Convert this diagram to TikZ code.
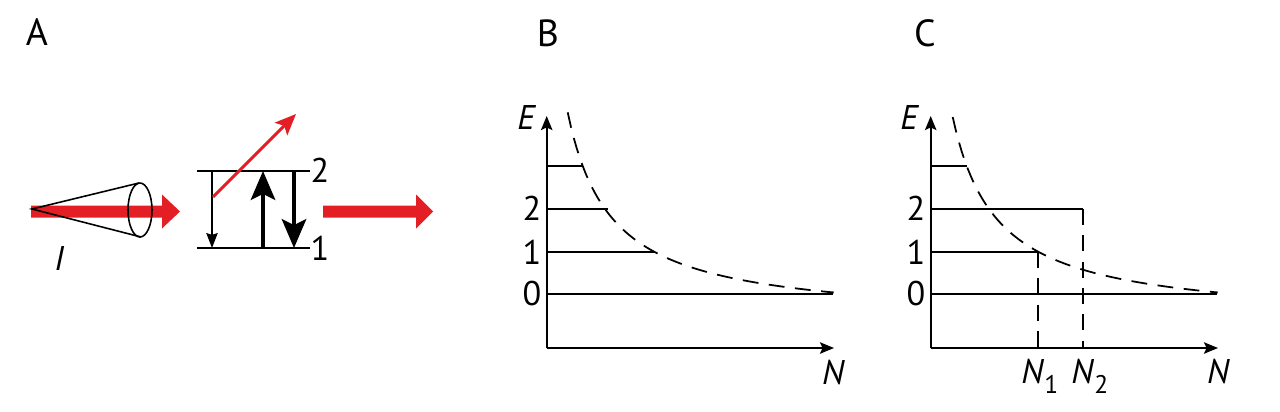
\documentclass[tikz,border=0pt]{standalone}
\usepackage{fontspec}
\setmainfont{PT Sans}
\usetikzlibrary{arrows.meta}
\definecolor{lred}{RGB}{228,30,37}
\begin{document}
\begin{tikzpicture}[x=0.02cm,y=-0.02cm,
  lbl/.style={font=\fontsize{19.5}{22}\selectfont, inner sep=0},
  ilbl/.style={font=\fontsize{19.5}{22}\selectfont\itshape, inner sep=0},
  panel/.style={font=\fontsize{21.5}{24}\selectfont, inner sep=0},
  lvl/.style={line width=1.1pt},
  axis/.style={line width=1.1pt, -{Stealth[length=8pt,width=6.5pt,inset=1.5pt]}},
  dsh/.style={line width=1pt, dash pattern=on 9pt off 6pt},
  thinarr/.style={line width=0.8pt, -{Stealth[length=8.5pt,width=6.5pt,inset=1pt]}},
  thickarr/.style={line width=1.8pt, -{Stealth[length=16.5pt,width=14pt,inset=3.5pt]}},
  redarr/.style={lred, line width=1.8pt, -{Stealth[length=12pt,width=10pt,inset=2.5pt]}},
  beam/.style={fill=lred, draw=none},
  cone/.style={line width=0.9pt}]
\useasboundingbox (0,0) rectangle (1280,412);

% ---------- panel labels
\node[panel] (pa) at (37,32) {A};
\node[panel] (pb) at (548,33) {B};
\node[panel] (pc) at (925,33) {C};

% ---------- panel A
\fill[beam] (31,205.5) -- (162,205.5) -- (162,194.5) -- (180,211.5) -- (162,228.5) -- (162,217.5) -- (31,217.5) -- cycle;
\fill[beam] (323,205.5) -- (416,205.5) -- (416,194.5) -- (433,211.5) -- (416,228.5) -- (416,217.5) -- (323,217.5) -- cycle;
\coordinate (apex) at (32,209);
\coordinate (ctop) at (139,183);
\coordinate (cbot) at (141,237);
\draw[cone] (ctop) -- (apex) -- (cbot);
\draw[cone] (140,210) ellipse [x radius=0.24cm, y radius=0.54cm];
\node[ilbl] (I) at (59,259) {I};

\coordinate (l2a) at (197,171); \coordinate (l2b) at (310,171);
\coordinate (l1a) at (197,248); \coordinate (l1b) at (310,248);
\draw[lvl] (l2a) -- (l2b);
\draw[lvl] (l1a) -- (l1b);
\node[lbl] (a2) at (320,170.5) {2};
\node[lbl] (a1) at (320,248) {1};
\coordinate (s1) at (212,171); \coordinate (e1) at (212,248);
\draw[thinarr] (s1) -- (e1);
\coordinate (s2) at (263,248); \coordinate (e2) at (263,171);
\draw[thickarr] (s2) -- (e2);
\coordinate (s3) at (294,171); \coordinate (e3) at (294,248);
\draw[thickarr] (s3) -- (e3);
\coordinate (rs) at (213,197); \coordinate (re) at (296,114);
\draw[redarr] (rs) -- (re);

% ---------- panel B
\coordinate (ob) at (546.7,348);
\coordinate (eb) at (546.7,116);
\coordinate (nb) at (834,348);
\draw[axis] (ob) -- (eb);
\draw[axis] (ob) -- (nb);
\draw[lvl] (546.7,294) -- (833,294);
\draw[lvl] (546.7,252) -- (655,252);
\draw[lvl] (546.7,209) -- (608,209);
\draw[lvl] (546.7,166) -- (583,166);
\node[lbl] (b0) at (532,294) {0};
\node[lbl] (b1) at (532,252) {1};
\node[lbl] (b2) at (532,208.5) {2};
\node[ilbl] (bE) at (526,117.5) {E};
\node[ilbl] (bN) at (833,373) {N};
\draw[dsh] plot[domain=21:287, samples=90] ({546.7+\x}, {348-26-9142/(\x+22.6)});

% ---------- panel C
\coordinate (oc) at (930.7,348);
\coordinate (ec) at (930.7,116);
\coordinate (nc) at (1218,348);
\draw[axis] (oc) -- (ec);
\draw[axis] (oc) -- (nc);
\draw[lvl] (930.7,294) -- (1217,294);
\draw[lvl] (930.7,252) -- (1038,252);
\draw[lvl] (930.7,209) -- (1083,209);
\draw[lvl] (930.7,166) -- (967,166);
\draw[dsh] (1038,252) -- (1038,348);
\draw[dsh] (1083,209) -- (1083,348);
\node[lbl] (c0) at (916,294) {0};
\node[lbl] (c1) at (916,252) {1};
\node[lbl] (c2) at (916,208.5) {2};
\node[ilbl] (cE) at (909,117.5) {E};
\node[ilbl] (cN) at (1218,372) {N};
\node[lbl, anchor=base west] (cN1) at (1021,383) {\textit{N}\raisebox{-0.3em}{\fontsize{14.5}{15}\selectfont 1}};
\node[lbl, anchor=base west] (cN2) at (1071,383) {\textit{N}\raisebox{-0.3em}{\fontsize{14.5}{15}\selectfont 2}};
\draw[dsh] plot[domain=22:287, samples=90] ({930.7+\x}, {348-26-9142/(\x+22.6)});
\end{tikzpicture}
\end{document}
